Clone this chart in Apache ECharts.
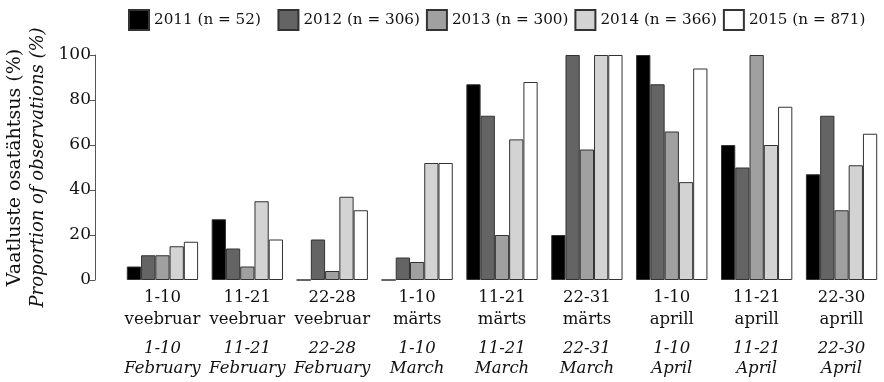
<!DOCTYPE html>
<html>
<head>
<meta charset="utf-8">
<script src="https://cdn.jsdelivr.net/npm/echarts@6/dist/echarts.min.js"></script>
<style>
  html, body { margin: 0; padding: 0; background: #fff; }
  #chart { width: 884px; height: 382px; }
</style>
</head>
<body>
<div id="chart"></div>
<script>
// Observation periods (Estonian / English)
const periodRanges = ['1-10', '11-21', '22-28', '1-10', '11-21', '22-31', '1-10', '11-21', '22-30'];
const monthsEt = ['veebruar', 'veebruar', 'veebruar', 'märts', 'märts', 'märts', 'aprill', 'aprill', 'aprill'];
const monthsEn = ['February', 'February', 'February', 'March', 'March', 'March', 'April', 'April', 'April'];

// Share of observations per year (%)
const seriesNames = ['2011 (n = 52)', '2012 (n = 306)', '2013 (n = 300)', '2014 (n = 366)', '2015 (n = 871)'];
const values2011 = [6, 27, 0, 0, 87, 20, 100, 60, 47];
const values2012 = [11, 14, 18, 10, 73, 100, 87, 50, 73];
const values2013 = [11, 6, 4, 8, 20, 58, 66, 100, 31];
const values2014 = [15, 35, 37, 52, 62.5, 100, 43.5, 60, 51];
const values2015 = [17, 18, 31, 52, 88, 100, 94, 77, 65];

const yTicks = [0, 20, 40, 60, 80, 100];

const fills = ['#000000', '#646464', '#a0a0a0', '#d3d3d3', '#ffffff'];
const allValues = [values2011, values2012, values2013, values2014, values2015];
const serif = '"DejaVu Serif", "Liberation Serif", serif';

const categories = periodRanges.map((r, i) => i);

const chart = echarts.init(document.getElementById('chart'));
chart.setOption({
  animation: false,
  backgroundColor: '#ffffff',
  textStyle: { fontFamily: serif, color: '#111' },
  legend: {
    top: 4,
    left: 123,
    width: 800,
    padding: [5, 0, 5, 5],
    itemWidth: 20,
    itemHeight: 20,
    itemGap: 6,
    icon: 'rect',
    // the shorter first label is padded with spaces so the entries sit evenly
    formatter: name => name === seriesNames[0] ? name + '\u2002\u2009' : name,
    textStyle: { fontFamily: serif, fontSize: 15.2, color: '#111' },
    data: seriesNames
  },
  grid: { left: 120, right: 0, top: 55, bottom: 102, outerBoundsMode: 'none', containLabel: false },
  xAxis: {
    type: 'category',
    data: categories,
    axisLine: { show: false },
    axisTick: { show: false },
    axisLabel: {
      margin: 7,
      interval: 0,
      formatter: (v, i) => '{a|' + periodRanges[i] + '}\n{a|' + monthsEt[i] + '}\n{s|}\n{b|' + periodRanges[i] + '}\n{b|' + monthsEn[i] + '}',
      rich: {
        a: { fontFamily: serif, fontSize: 16.5, lineHeight: 22, color: '#111' },
        s: { fontSize: 4, lineHeight: 8 },
        b: { fontFamily: serif, fontSize: 16.5, lineHeight: 20, fontStyle: 'italic', color: '#111' }
      }
    }
  },
  yAxis: {
    type: 'value',
    min: 0,
    max: 100,
    interval: 20,
    offset: 25,
    splitLine: { show: false },
    axisLine: { show: true, lineStyle: { color: '#555', width: 1 } },
    axisTick: { show: true, length: 5, lineStyle: { color: '#555' } },
    axisLabel: {
      fontFamily: serif, fontSize: 17, color: '#111', margin: 4,
      formatter: v => yTicks.includes(v) ? String(v) : ''
    },
    name: '{a|Vaatluste osatähtsus (%)}\n{b|Proportion of observations (%)}',
    nameLocation: 'middle',
    nameRotate: 90,
    nameGap: 42,
    nameTextStyle: {
      rich: {
        a: { fontFamily: serif, fontSize: 19, lineHeight: 24, color: '#111' },
        b: { fontFamily: serif, fontSize: 18, lineHeight: 24, fontStyle: 'italic', color: '#111' }
      }
    }
  },
  series: seriesNames.map((name, k) => ({
    name,
    type: 'bar',
    data: allValues[k],
    barGap: '0%',
    barCategoryGap: '16%',
    itemStyle: { color: fills[k], borderColor: '#333', borderWidth: 1 }
  }))
});
</script>
</body>
</html>
